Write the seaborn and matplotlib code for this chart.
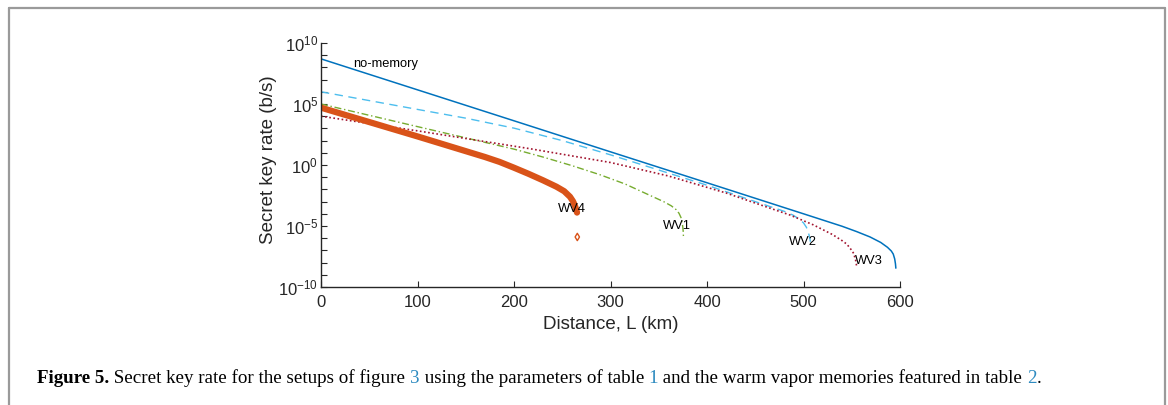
import numpy as np
import pandas as pd
import matplotlib
matplotlib.use("Agg")
import matplotlib.pyplot as plt
from matplotlib.lines import Line2D
from matplotlib.ticker import FixedLocator, NullFormatter
import seaborn as sns

# Distances (km) and secret key rates (b/s) for each setup
nomem_L = [0, 100, 200, 300, 400, 500, 540, 555, 569, 580, 587, 591, 593, 594.5, 595.3, 595.7]
nomem_R = [5.0e8, 1.45e6, 4.2e3, 12.0, 3.5e-2, 1.0e-4, 9.5e-6, 3.5e-6, 1.26e-6, 4.5e-7,
           1.8e-7, 8.9e-8, 5.0e-8, 2.0e-8, 7.9e-9, 3.5e-9]

wv2_L = [0, 50, 100, 150, 200, 250, 300, 400, 450, 480, 489, 495, 500, 503, 505, 506.5, 507.2]
wv2_R = [1.0e6, 1.9e5, 3.6e4, 6.9e3, 1.05e3, 1.0e2, 6.8, 2.2e-2, 1.0e-3, 1.6e-4, 7.9e-5,
         4.0e-5, 1.8e-5, 7.9e-6, 3.2e-6, 1.0e-6, 5.0e-7]

wv1_L = [0, 100, 200, 230, 260, 289, 315, 341, 355, 363, 368, 371, 373, 374.5, 375.3, 375.6]
wv1_R = [1.0e5, 1.4e3, 20.0, 4.5, 0.89, 0.16, 2.8e-2, 3.2e-3, 1.0e-3, 4.5e-4, 2.2e-4,
         1.1e-4, 5.0e-5, 1.6e-5, 4.0e-6, 1.26e-6]

wv3_L = [0, 100, 216, 300, 360, 420, 486, 510, 530, 540, 545, 550, 552, 554, 555.3]
wv3_R = [1.0e4, 6.3e2, 22.0, 1.6, 0.126, 5.0e-3, 7.9e-5, 1.26e-5, 2.0e-6, 6.3e-7, 3.2e-7,
         1.0e-7, 5.6e-8, 1.6e-8, 4.0e-9]

wv4_L = [0, 100, 170, 185, 200, 215, 230, 244, 252, 258, 261, 263, 264.5, 265.3]
wv4_R = [5.0e4, 2.2e2, 4.5, 1.8, 0.6, 0.19, 5.6e-2, 1.66e-2, 7.1e-3, 2.5e-3, 1.1e-3,
         5.0e-4, 2.2e-4, 1.26e-4]

wv4_point_L = [265.6]
wv4_point_R = [1.26e-6]

series = [
    ("no-memory", nomem_L, nomem_R, "#0072BD", "-", 1.1),
    ("WV2", wv2_L, wv2_R, "#4DBEEE", (0, (6, 4)), 1.0),
    ("WV1", wv1_L, wv1_R, "#77AC30", (0, (5, 2, 1, 2)), 1.0),
    ("WV3", wv3_L, wv3_R, "#A2142F", (0, (1, 1.5)), 1.2),
    ("WV4", wv4_L, wv4_R, "#D95319", "-", 4.5),
]

# curve labels: (text, distance, rate)
labels = [
    ("no-memory", 33, 1.9e8),
    ("WV4", 245.6, 2.4e-4),
    ("WV1", 354, 1.0e-5),
    ("WV2", 484.7, 4.8e-7),
    ("WV3", 553, 1.4e-8),
]

sns.set_theme(style="ticks")
plt.rcParams["font.family"] = ["Liberation Sans", "DejaVu Sans"]
plt.rcParams["mathtext.fontset"] = "custom"
plt.rcParams["mathtext.rm"] = "Liberation Sans"
plt.rcParams["mathtext.it"] = "Liberation Sans:italic"
plt.rcParams["mathtext.bf"] = "Liberation Sans:bold"

fig = plt.figure(figsize=(11.68, 4.05), dpi=100)
ax = fig.add_axes([321 / 1168, 1 - 287 / 405, 579 / 1168, 244 / 405])

for name, L, R, color, ls, lw in series:
    df = pd.DataFrame({"L": L, "R": R})
    sns.lineplot(data=df, x="L", y="R", ax=ax, color=color, linestyle=ls,
                 linewidth=lw, sort=False, estimator=None, legend=False)

pt = pd.DataFrame({"L": wv4_point_L, "R": wv4_point_R})
sns.scatterplot(data=pt, x="L", y="R", ax=ax, marker="d", s=14,
                facecolor="none", edgecolor="#D95319", linewidth=1.0, legend=False)

for text, x, y in labels:
    ax.text(x, y, text, fontsize=9.3, ha="left", va="center", color="black")

ax.set_yscale("log")
ax.set_xlim(0, 600)
ax.set_ylim(1e-10, 1e10)
ax.yaxis.set_major_locator(FixedLocator([1e-10, 1e-5, 1e0, 1e5, 1e10]))
ax.yaxis.set_minor_locator(FixedLocator([10.0 ** k for k in range(-10, 11)]))
ax.yaxis.set_minor_formatter(NullFormatter())
ax.set_xticks([0, 100, 200, 300, 400, 500, 600])

sns.despine(ax=ax)
for sp in ("left", "bottom"):
    ax.spines[sp].set_color("#262626")
    ax.spines[sp].set_linewidth(1.0)
ax.tick_params(axis="both", which="both", direction="in", length=4, width=0.8,
               color="#262626", labelsize=12, labelcolor="#262626")
ax.tick_params(axis="x", which="major", pad=6)
ax.tick_params(axis="y", which="major", pad=2)

ax.set_xlabel("Distance, L (km)", fontsize=13.5, color="#262626")
ax.set_ylabel("Secret key rate (b/s)", fontsize=13.5, color="#262626")
ax.xaxis.set_label_coords(0.5, -0.152)
ax.xaxis.label.set_va("center")
ax.yaxis.set_label_coords(-0.0915, 0.52)
ax.yaxis.label.set_va("center")

# page frame around the figure
frame_c = "#9a9a9a"
top = 1 - 7.5 / 405
for xs, ys in (([9 / 1168, 9 / 1168], [0, top]),
               ([1165 / 1168, 1165 / 1168], [0, top]),
               ([9 / 1168, 1165 / 1168], [top, top])):
    fig.add_artist(Line2D(xs, ys, transform=fig.transFigure, color=frame_c, lw=1.6))

# caption
cap = fig.add_axes([0, 0, 1, 1], facecolor="none")
cap.set_axis_off()
link = "#2e8bc0"
parts = [
    ("Figure 5.", "black", "bold"),
    (" Secret key rate for the setups of figure ", "black", "normal"),
    ("3", link, "normal"),
    (" using the parameters of table ", "black", "normal"),
    ("1", link, "normal"),
    (" and the warm vapor memories featured in table ", "black", "normal"),
    ("2", link, "normal"),
    (".", "black", "normal"),
]
cap_font = ["Liberation Serif", "DejaVu Serif"]
prev = None
for txt, col, wt in parts:
    if prev is None:
        prev = cap.text(37 / 1168, 1 - 387 / 405, txt, color=col, fontweight=wt,
                        fontsize=13.7, family=cap_font, ha="left", va="bottom",
                        transform=fig.transFigure)
    else:
        prev = cap.annotate(txt, xy=(1, 0), xycoords=prev, color=col, fontweight=wt,
                            fontsize=13.7, family=cap_font, ha="left", va="bottom")

fig.savefig("out.png", dpi=100)
